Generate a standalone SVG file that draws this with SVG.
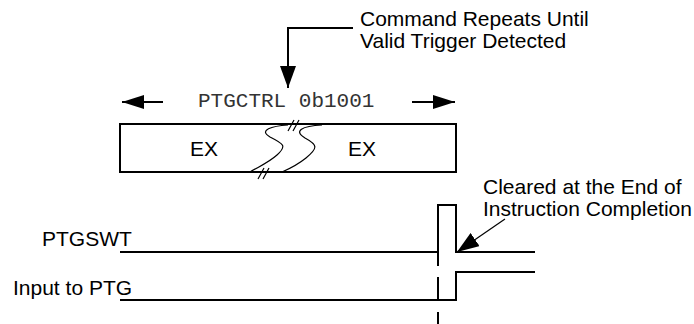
<svg xmlns="http://www.w3.org/2000/svg" width="694" height="324" viewBox="0 0 694 324">
<style>
.t{font-family:"Liberation Sans",Arial,sans-serif;font-size:21px;fill:#000}
.m{font-family:"Liberation Mono","Courier New",monospace;font-size:21px;fill:#333}
.ln{fill:none;stroke:#000;stroke-width:2}
.th{fill:none;stroke:#000;stroke-width:1.2}
</style>
<defs>
<marker id="ah" viewBox="0 0 22 14" refX="22" refY="7" markerWidth="22" markerHeight="14" markerUnits="userSpaceOnUse" orient="auto">
<path d="M0,0 L22,7 L0,14 Z" fill="#000"/>
</marker>
<marker id="ah2" viewBox="0 0 22 16" refX="22" refY="8" markerWidth="22" markerHeight="16" markerUnits="userSpaceOnUse" orient="auto">
<path d="M0,0 L22,8 L0,16 Z" fill="#000"/>
</marker>
</defs>
<rect width="694" height="324" fill="#fff"/>
<g id="callout-top">
<text class="t" x="360" y="26">Command Repeats Until</text>
<text class="t" x="360" y="48">Valid Trigger Detected</text>
</g>
<g id="ptgctrl">
<text class="m" x="198" y="107">PTGCTRL 0b1001</text>
</g>
<g id="ex-box">
<rect x="120" y="124" width="336" height="48" class="ln"/>
<text class="t" x="190" y="156">EX</text>
<text class="t" x="348" y="156">EX</text>
<path class="th" d="M288 125 C272 126,258 130,270 137 C284 144,287 146,277 155 C268 163,258 167,250 172"/>
<path class="th" d="M322 125 C302 126,293 131,305 138 C318 145,318 148,306 158 C296 166,289 169,282 172"/>
<path class="th" d="M288 131 L294 120 M293 131 L299 120 M258 179 L264 168 M263 179 L269 168"/>
</g>
<g id="ptgswt">
<text class="t" x="42" y="246">PTGSWT</text>
<path class="ln" d="M120 252 H438 V205 H456 V252 H535"/>
</g>
<g id="input-ptg">
<text class="t" x="13" y="295">Input to PTG</text>
<path class="ln" d="M120 300 H456 V272 H535"/>
</g>
<g id="callout-bottom">
<text class="t" x="483" y="194">Cleared at the End of</text>
<text class="t" x="483" y="216">Instruction Completion</text>
</g>
<g id="connectors">
<path class="ln" d="M353 28 H288 V88" marker-end="url(#ah2)"/>
<line class="ln" x1="163" y1="102" x2="122" y2="102" marker-end="url(#ah)"/>
<line class="ln" x1="412" y1="102" x2="455" y2="102" marker-end="url(#ah)"/>
<line x1="505" y1="219" x2="457" y2="252" stroke="#000" stroke-width="1.2" marker-end="url(#ah2)"/>
<line class="ln" x1="438" y1="242" x2="438" y2="324" stroke-dasharray="24 11"/>
</g>
</svg>
